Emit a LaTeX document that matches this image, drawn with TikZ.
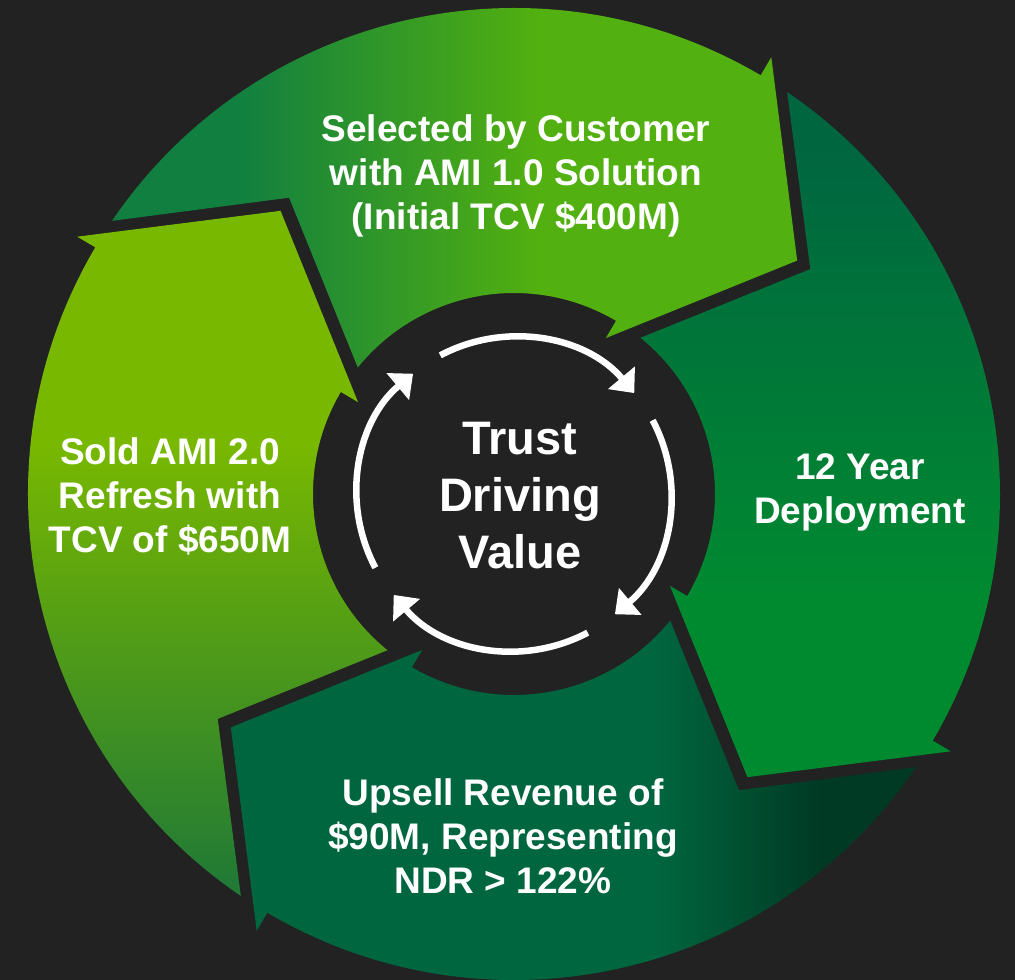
\documentclass[tikz,border=0pt]{standalone}
\usepackage{fontspec}
\setmainfont{Liberation Sans}
\usepackage{xcolor}
\usetikzlibrary{arrows.meta}

\definecolor{bgdark}{HTML}{222222}
\definecolor{grA1}{HTML}{117F40}
\definecolor{grA2}{HTML}{52B010}
\definecolor{grB1}{HTML}{006640}
\definecolor{grB2}{HTML}{008A30}
\definecolor{grC1}{HTML}{006640}
\definecolor{grC2}{HTML}{003A24}
\definecolor{grD1}{HTML}{78B800}
\definecolor{grD2}{HTML}{217A35}

\pgfdeclarehorizontalshading{segA}{100bp}{color(0bp)=(grA1); color(34bp)=(grA1); color(56bp)=(grA2); color(100bp)=(grA2)}
\pgfdeclareverticalshading{segB}{100bp}{color(0bp)=(grB2); color(38bp)=(grB2); color(71bp)=(grB1); color(100bp)=(grB1)}
\pgfdeclarehorizontalshading{segC}{100bp}{color(0bp)=(grC1); color(56bp)=(grC1); color(68bp)=(grC2); color(100bp)=(grC2)}
\pgfdeclareverticalshading{segD}{100bp}{color(0bp)=(grD2); color(26bp)=(grD2); color(58bp)=(grD1); color(100bp)=(grD1)}

\begin{document}
\begin{tikzpicture}[x=1pt,y=1pt,
  segtxt/.style={text=white,font=\bfseries\fontsize{37}{44}\selectfont,align=center},
  hubtxt/.style={text=white,font=\bfseries\fontsize{47}{57}\selectfont,align=center},
  hubarrow/.style={white,line width=6.5pt,-{Triangle[length=20pt,width=34pt]}}]
\fill[bgdark] (-514,-486) rectangle (501,494); % background
\useasboundingbox (-514,-486) rectangle (501,494);
\foreach \h/\shd [evaluate=\h as \p using \h+90] in {59.5/segA,-30.5/segB,-120.5/segC,149.5/segD} % edit here for the ring arrows
\shade[shading=\shd] ({\p-3.7}:486) arc[start angle=\p-3.7,end angle=\h,radius=486] -- (\h:507) -- ({\h-20}:367)
  -- (\h:181) -- (\h:201) arc[start angle=\h,end angle=\p-8.5,radius=201] -- ({\p-22.3}:372) -- cycle;
\foreach \k in {0,1,2,3} % edit here for the hub arrows
\draw[hubarrow] ({118-90*\k}:157) arc[start angle=118-90*\k,end angle=40-90*\k,radius=157];
\node[segtxt] (selected) at (2,318) {Selected by Customer\\with AMI 1.0 Solution\\(Initial TCV \$400M)};
\node[segtxt] (deploy) at (346,2) {12 Year\\Deployment};
\node[segtxt] (upsell) at (-11,-342) {Upsell Revenue of\\\$90M, Representing\\NDR > 122\%};
\node[segtxt] (refresh) at (-344,-2) {Sold AMI 2.0\\Refresh with\\TCV of \$650M};
\node[hubtxt] (trust) at (6,-2) {Trust\\Driving\\Value};
\end{tikzpicture}
\end{document}
